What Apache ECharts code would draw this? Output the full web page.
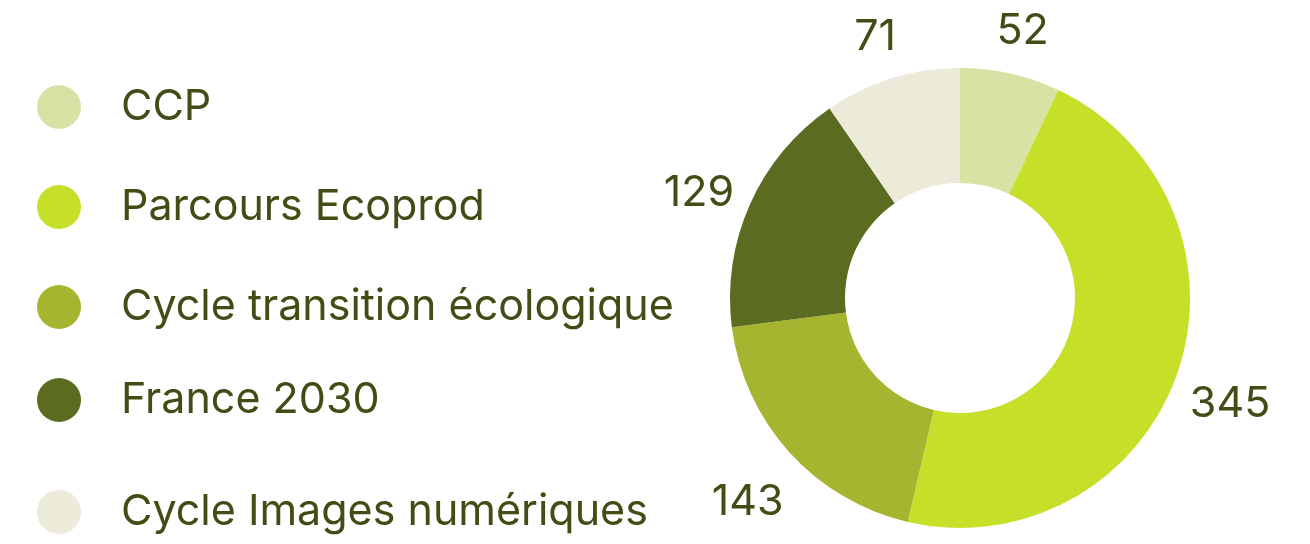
<!DOCTYPE html>
<html>
<head>
<meta charset="utf-8">
<script src="https://cdn.jsdelivr.net/npm/echarts@6/dist/echarts.min.js"></script>
<style>
  html, body { margin: 0; padding: 0; background: #fff; }
  #chart { width: 1310px; height: 544px; }
</style>
</head>
<body>
<div id="chart"></div>
<script>
const categories = ["CCP", "Parcours Ecoprod", "Cycle transition écologique", "France 2030", "Cycle Images numériques"];
const values = [52, 345, 143, 129, 71];
const colors = ["#d6e3a4", "#c6df29", "#a5b52f", "#5b6b1f", "#ecead8"];
const legendTops = [80, 180, 280, 373, 485];

const textColor = "#414d14";
const font = "Inter";

const pieData = categories.map((name, i) => ({
  name: name,
  value: values[i],
  itemStyle: { color: colors[i] },
}));

const chart = echarts.init(document.getElementById("chart"));
chart.setOption({
  animation: false,
  legend: categories.map((name, i) => ({
    data: [name],
    left: 32,
    top: legendTops[i],
    orient: "vertical",
    icon: "circle",
    itemWidth: 44,
    itemHeight: 44,
    selectedMode: false,
    textStyle: {
      color: textColor,
      fontFamily: font,
      fontSize: 43,
      padding: [4, 0, 0, 35],
    },
  })),
  series: [
    {
      type: "pie",
      center: [960, 298],
      radius: [115, 230],
      startAngle: 90,
      clockwise: true,
      silent: true,
      label: { show: false },
      labelLine: { show: false },
      data: pieData,
    },
    {
      // invisible ring only used to place the value labels
      type: "pie",
      center: [960, 310],
      radius: [268, 298],
      startAngle: 90,
      clockwise: true,
      silent: true,
      itemStyle: { color: "rgba(0,0,0,0)" },
      label: {
        show: true,
        position: "inside",
        formatter: "{c}",
        color: textColor,
        fontFamily: font,
        fontSize: 43,
      },
      labelLine: { show: false },
      data: categories.map((name, i) => ({ name: name, value: values[i] })),
    },
  ],
});
</script>
</body>
</html>
